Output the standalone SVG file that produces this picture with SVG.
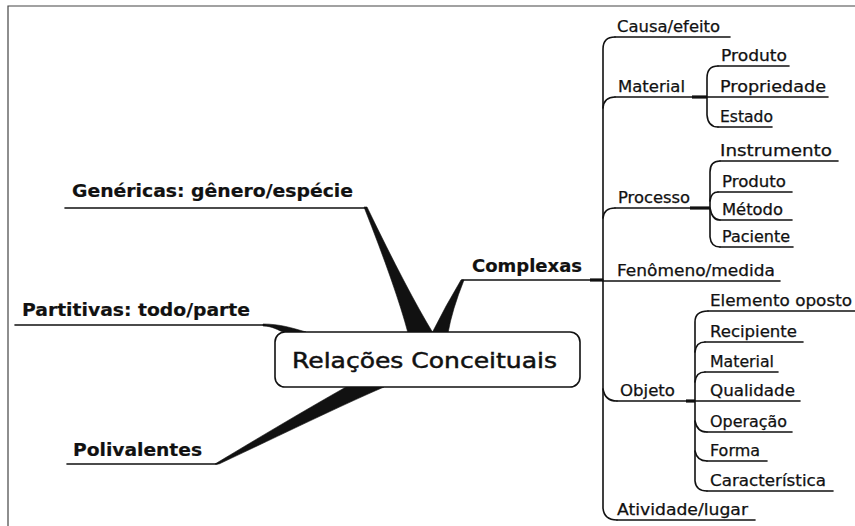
<svg xmlns="http://www.w3.org/2000/svg" width="855" height="526" viewBox="0 0 855 526">
  <style>
    .t { font-family: "DejaVu Sans", "Liberation Sans", sans-serif; font-size: 15px; fill: #111; stroke: #111; stroke-width: 0.25; }
    .b { font-size: 18px; font-weight: bold; stroke-width: 0.2; }
    .c { font-size: 22px; stroke-width: 0.5; }
    .ln { stroke: #111; stroke-width: 1.6; fill: none; stroke-linecap: round; }
    .thick { stroke: #111; stroke-width: 3.2; fill: none; }
    .w { fill: #111; stroke: #111; stroke-width: 0.6; stroke-linejoin: round; }
    .frame { stroke: #444; stroke-width: 1.2; fill: none; }
  </style>

  <rect width="855" height="526" fill="#ffffff"/>

  <!-- frame edges -->
  <path class="frame" d="M8,526 L8,6 L855,6"/>

  <!-- connectors: tapered branches, trunks and elbows -->
  <g id="connectors">
    <!-- tapered main branches from the central topic -->
    <path class="w" d="M364,207 L367,207 Q408,292 433,333 L408,333 Q396,288 364,207 Z"/>
    <path class="w" d="M461,280 L464,280 Q452,310 448,333 L432,333 Q446,305 461,280 Z"/>
    <path class="w" d="M263,324 C280,324 292,328 306,332 L285,333 C278,330 272,326 263,326 Z"/>
    <path class="w" d="M215,464 L219,464 C285,433 340,406 384,387 L346,387 C300,413 255,440 215,464 Z"/>

    <!-- Complexas trunk -->
    <path class="ln" d="M615,37 Q603,37 603,49 L603,508 Q604,520 617,520"/>
    <path class="thick" d="M590,280 L603,280"/>
    <path class="ln" d="M603,108 Q604,97 615,97"/>
    <path class="ln" d="M603,218 Q604,208 615,208"/>
    <path class="ln" d="M603,389 Q605,401 617,401"/>

    <!-- Material sub-trunk -->
    <path class="thick" d="M692,97 L707,97"/>
    <path class="ln" d="M718,66 Q707,66 707,78 L707,115 Q708,127 718,127"/>

    <!-- Processo sub-trunk -->
    <path class="thick" d="M690,208 L710,208"/>
    <path class="ln" d="M720,161 Q710,161 710,172 L710,237 Q711,247 720,247"/>
    <path class="ln" d="M710,201 Q711,192 718,192"/>
    <path class="ln" d="M710,208 Q712,220 720,220"/>

    <!-- Objeto sub-trunk -->
    <path class="thick" d="M686,401 L695,401"/>
    <path class="ln" d="M708,311 Q695,311 695,322 L695,481 Q696,491 707,491"/>
    <path class="ln" d="M695,352 Q696,342 705,342"/>
    <path class="ln" d="M695,382 Q696,372 705,372"/>
    <path class="ln" d="M695,421 Q697,432 707,432"/>
    <path class="ln" d="M695,451 Q697,461 707,461"/>
  </g>

  <!-- central topic -->
  <g id="central">
    <rect x="275" y="332" width="305" height="55" rx="10" ry="10" fill="#fff" stroke="#111" stroke-width="1.6"/>
    <text class="t c" x="292" y="368" textLength="265" lengthAdjust="spacingAndGlyphs">Relações Conceituais</text>
  </g>

  <!-- main topics -->
  <g id="genericas">
    <text class="t b" x="72" y="197" textLength="281" lengthAdjust="spacingAndGlyphs">Genéricas: gênero/espécie</text>
    <line class="ln" x1="65" y1="208" x2="366" y2="208"/>
  </g>
  <g id="complexas">
    <text class="t b" x="472" y="272" textLength="110" lengthAdjust="spacingAndGlyphs">Complexas</text>
    <line class="ln" x1="462" y1="280" x2="603" y2="280"/>
  </g>
  <g id="partitivas">
    <text class="t b" x="22" y="316" textLength="228" lengthAdjust="spacingAndGlyphs">Partitivas: todo/parte</text>
    <line class="ln" x1="15" y1="325" x2="265" y2="325"/>
  </g>
  <g id="polivalentes">
    <text class="t b" x="73" y="456" textLength="129" lengthAdjust="spacingAndGlyphs">Polivalentes</text>
    <line class="ln" x1="67" y1="464" x2="217" y2="464"/>
  </g>

  <!-- Complexas subtopics -->
  <g id="causa-efeito">
    <text class="t" x="617" y="32" textLength="103" lengthAdjust="spacingAndGlyphs">Causa/efeito</text>
    <line class="ln" x1="615" y1="37" x2="730" y2="37"/>
  </g>
  <g id="material">
    <text class="t" x="618" y="92" textLength="67" lengthAdjust="spacingAndGlyphs">Material</text>
    <line class="ln" x1="615" y1="97" x2="692" y2="97"/>
  </g>
  <g id="material-produto">
    <text class="t" x="721" y="61" textLength="66" lengthAdjust="spacingAndGlyphs">Produto</text>
    <line class="ln" x1="718" y1="66" x2="789" y2="66"/>
  </g>
  <g id="material-propriedade">
    <text class="t" x="720" y="92" textLength="106" lengthAdjust="spacingAndGlyphs">Propriedade</text>
    <line class="ln" x1="707" y1="97" x2="828" y2="97"/>
  </g>
  <g id="material-estado">
    <text class="t" x="720" y="122" textLength="53" lengthAdjust="spacingAndGlyphs">Estado</text>
    <line class="ln" x1="718" y1="127" x2="772" y2="127"/>
  </g>

  <g id="processo">
    <text class="t" x="618" y="203" textLength="72" lengthAdjust="spacingAndGlyphs">Processo</text>
    <line class="ln" x1="615" y1="208" x2="690" y2="208"/>
  </g>
  <g id="processo-instrumento">
    <text class="t" x="720" y="156" textLength="112" lengthAdjust="spacingAndGlyphs">Instrumento</text>
    <line class="ln" x1="720" y1="161" x2="838" y2="161"/>
  </g>
  <g id="processo-produto">
    <text class="t" x="722" y="187" textLength="64" lengthAdjust="spacingAndGlyphs">Produto</text>
    <line class="ln" x1="718" y1="192" x2="792" y2="192"/>
  </g>
  <g id="processo-metodo">
    <text class="t" x="722" y="215" textLength="61" lengthAdjust="spacingAndGlyphs">Método</text>
    <line class="ln" x1="720" y1="220" x2="792" y2="220"/>
  </g>
  <g id="processo-paciente">
    <text class="t" x="722" y="242" textLength="68" lengthAdjust="spacingAndGlyphs">Paciente</text>
    <line class="ln" x1="720" y1="247" x2="793" y2="247"/>
  </g>

  <g id="fenomeno-medida">
    <text class="t" x="617" y="276" textLength="158" lengthAdjust="spacingAndGlyphs">Fenômeno/medida</text>
    <line class="ln" x1="603" y1="281" x2="780" y2="281"/>
  </g>

  <g id="objeto">
    <text class="t" x="620" y="396" textLength="55" lengthAdjust="spacingAndGlyphs">Objeto</text>
    <line class="ln" x1="617" y1="401" x2="686" y2="401"/>
  </g>
  <g id="objeto-elemento-oposto">
    <text class="t" x="710" y="306" textLength="142" lengthAdjust="spacingAndGlyphs">Elemento oposto</text>
    <line class="ln" x1="708" y1="311" x2="855" y2="311"/>
  </g>
  <g id="objeto-recipiente">
    <text class="t" x="710" y="337" textLength="87" lengthAdjust="spacingAndGlyphs">Recipiente</text>
    <line class="ln" x1="705" y1="342" x2="803" y2="342"/>
  </g>
  <g id="objeto-material">
    <text class="t" x="710" y="367" textLength="64" lengthAdjust="spacingAndGlyphs">Material</text>
    <line class="ln" x1="705" y1="372" x2="778" y2="372"/>
  </g>
  <g id="objeto-qualidade">
    <text class="t" x="710" y="396" textLength="85" lengthAdjust="spacingAndGlyphs">Qualidade</text>
    <line class="ln" x1="695" y1="401" x2="800" y2="401"/>
  </g>
  <g id="objeto-operacao">
    <text class="t" x="710" y="427" textLength="77" lengthAdjust="spacingAndGlyphs">Operação</text>
    <line class="ln" x1="707" y1="432" x2="792" y2="432"/>
  </g>
  <g id="objeto-forma">
    <text class="t" x="710" y="456" textLength="50" lengthAdjust="spacingAndGlyphs">Forma</text>
    <line class="ln" x1="707" y1="461" x2="767" y2="461"/>
  </g>
  <g id="objeto-caracteristica">
    <text class="t" x="710" y="486" textLength="116" lengthAdjust="spacingAndGlyphs">Característica</text>
    <line class="ln" x1="707" y1="491" x2="833" y2="491"/>
  </g>

  <g id="atividade-lugar">
    <text class="t" x="617" y="515" textLength="131" lengthAdjust="spacingAndGlyphs">Atividade/lugar</text>
    <line class="ln" x1="617" y1="520" x2="755" y2="520"/>
  </g>
</svg>
